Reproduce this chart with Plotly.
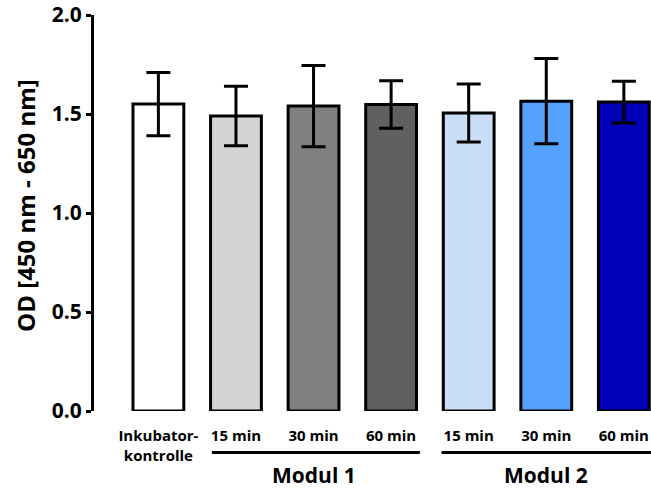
import plotly.graph_objects as go

categories = ["Inkubator-<br>kontrolle", "15 min", "30 min", "60 min", "15 min", "30 min", "60 min"]
means = [1.55, 1.49, 1.54, 1.548, 1.505, 1.565, 1.56]
sds = [0.16, 0.15, 0.205, 0.12, 0.147, 0.215, 0.106]
colors = ["#FFFFFF", "#D4D4D4", "#808080", "#606060", "#CADEF8", "#56A0FE", "#0000B8"]
groups = ["Modul 1", "Modul 2"]
group_centers = [2, 5]
y_ticks = [0.0, 0.5, 1.0, 1.5, 2.0]

xpos = list(range(len(categories)))
font_family = "Open Sans"

fig = go.Figure()
fig.add_trace(go.Bar(
    x=xpos, y=means,
    width=0.655,
    marker=dict(color=colors, line=dict(color="black", width=3)),
    error_y=dict(type="data", array=sds, visible=True, color="black", thickness=3, width=12),
    showlegend=False,
))

fig.update_layout(
    width=651, height=488,
    margin=dict(l=94, r=0, t=15, b=77, autoexpand=False),
    plot_bgcolor="white", paper_bgcolor="white",
    font=dict(family=font_family, color="black"),
    xaxis=dict(
        range=[-0.83, 6.35],
        tickvals=xpos, ticktext=["<b>%s</b>" % c for c in categories],
        tickfont=dict(size=15, family=font_family),
        ticks="outside", ticklen=11, tickcolor="rgba(0,0,0,0)",
        showline=False, showgrid=False, zeroline=False,
    ),
    yaxis=dict(
        range=[0, 2.0],
        tickvals=y_ticks, ticktext=["<b>%.1f</b>" % v for v in y_ticks],
        tickfont=dict(size=21, family=font_family),
        ticks="outside", ticklen=5, tickwidth=2.5, tickcolor="black",
        showline=True, linecolor="black", linewidth=3,
        showgrid=False, zeroline=False,
    ),
)

fig.add_annotation(xref="paper", yref="paper", x=-0.122, y=0.518, text="<b>OD [450 nm - 650 nm]</b>",
                   textangle=-90, showarrow=False, font=dict(size=24, family=font_family),
                   xanchor="center", yanchor="middle")

# group lines and labels
group_spans = [(0.69, 3.37), (3.65, 6.35)]
for (x0, x1), name, xc in zip(group_spans, groups, group_centers):
    fig.add_shape(type="line", xref="x", yref="paper", x0=x0, x1=x1, y0=-0.105, y1=-0.105,
                  line=dict(color="black", width=3))
    fig.add_annotation(xref="x", yref="paper", x=xc, y=-0.161, text="<b>%s</b>" % name,
                       showarrow=False, font=dict(size=21, family=font_family), yanchor="middle")

fig.write_html("out.html", config={"displayModeBar": False},
               post_script="document.body.style.margin='0';document.body.style.overflow='hidden';")
